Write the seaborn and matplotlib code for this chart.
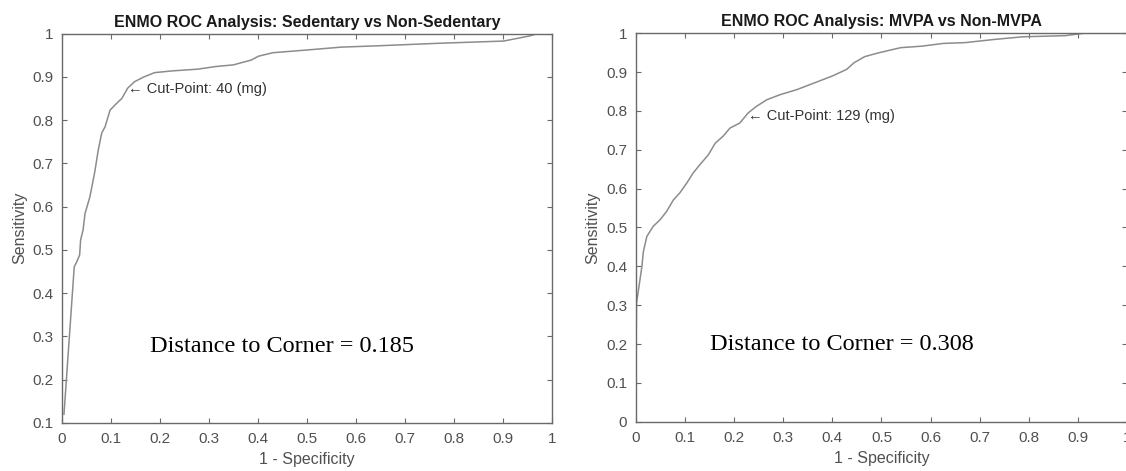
import matplotlib
matplotlib.use("Agg")
import matplotlib.pyplot as plt
import seaborn as sns
import pandas as pd

# ---- data ----
sed_fpr = [0.004, 0.025, 0.030, 0.036, 0.038, 0.043, 0.047, 0.057, 0.067, 0.074,
           0.081, 0.088, 0.098, 0.108, 0.118, 0.122, 0.134, 0.148, 0.167, 0.189,
           0.225, 0.277, 0.313, 0.350, 0.386, 0.401, 0.430, 0.496, 0.570, 0.643,
           0.771, 0.901, 0.955, 0.969, 1.0]
sed_tpr = [0.119, 0.461, 0.472, 0.488, 0.523, 0.546, 0.584, 0.623, 0.681, 0.731,
           0.770, 0.785, 0.823, 0.835, 0.846, 0.850, 0.874, 0.889, 0.900, 0.910,
           0.914, 0.918, 0.924, 0.928, 0.939, 0.948, 0.956, 0.962, 0.969, 0.972,
           0.978, 0.983, 0.995, 1.0, 1.0]

mvpa_fpr = [0.0, 0.0, 0.002, 0.009, 0.013, 0.016, 0.023, 0.036, 0.050, 0.063, 0.077,
            0.090, 0.104, 0.117, 0.131, 0.148, 0.162, 0.178, 0.192, 0.212, 0.229,
            0.246, 0.267, 0.294, 0.328, 0.363, 0.400, 0.429, 0.444, 0.466, 0.495,
            0.539, 0.583, 0.626, 0.670, 0.728, 0.787, 0.874, 0.911, 1.0]
mvpa_tpr = [0.0, 0.043, 0.305, 0.365, 0.400, 0.438, 0.477, 0.503, 0.520, 0.541, 0.571,
            0.589, 0.614, 0.640, 0.662, 0.687, 0.717, 0.735, 0.756, 0.769, 0.795,
            0.812, 0.829, 0.842, 0.855, 0.872, 0.890, 0.907, 0.924, 0.940, 0.950,
            0.963, 0.967, 0.974, 0.976, 0.984, 0.991, 0.994, 1.0, 1.0]

titles = ["ENMO ROC Analysis: Sedentary vs Non-Sedentary",
          "ENMO ROC Analysis: MVPA vs Non-MVPA"]
cut_labels = ["\u2190 Cut-Point: 40 (mg)", "\u2190 Cut-Point: 129 (mg)"]
cut_pos = [(0.134, 0.872), (0.229, 0.788)]
dist_labels = ["Distance to Corner = 0.185", "Distance to Corner = 0.308"]
dist_pos = [(0.18, 0.2775), (0.151, 0.20)]
x_ticks = [0, 0.1, 0.2, 0.3, 0.4, 0.5, 0.6, 0.7, 0.8, 0.9, 1]
y_ticks_sed = [0.1, 0.2, 0.3, 0.4, 0.5, 0.6, 0.7, 0.8, 0.9, 1]
y_ticks_mvpa = [0, 0.1, 0.2, 0.3, 0.4, 0.5, 0.6, 0.7, 0.8, 0.9, 1]
ylims = [(0.1, 1.0), (0.0, 1.0)]

sns.set_theme(style="white")
plt.rcParams['font.family'] = ['Liberation Sans', 'DejaVu Sans']

fig = plt.figure(figsize=(11.26, 4.71), dpi=100)
axes = [fig.add_axes([0.05506, 0.1025, 0.4352, 0.8259]),
        fig.add_axes([0.5644, 0.1047, 0.4369, 0.8246])]

spine_c = "#6a6a6a"
tick_c = "#505050"
line_c = "#8c8c8c"

def fmt(v):
    return "%g" % v

data = [(sed_fpr, sed_tpr, y_ticks_sed), (mvpa_fpr, mvpa_tpr, y_ticks_mvpa)]
for i, ax in enumerate(axes):
    fpr, tpr, yt = data[i]
    df = pd.DataFrame({"fpr": fpr, "tpr": tpr})
    sns.lineplot(data=df, x="fpr", y="tpr", ax=ax, sort=False, estimator=None,
                 color=line_c, linewidth=1.1)
    ax.set_xlim(0, 1)
    ax.set_ylim(*ylims[i])
    ax.set_xticks(x_ticks)
    ax.set_xticklabels([fmt(v) for v in x_ticks])
    ax.set_yticks(yt)
    ax.set_yticklabels([fmt(v) for v in yt])
    for sp in ax.spines.values():
        sp.set_visible(True)
        sp.set_color(spine_c)
        sp.set_linewidth(1.0)
    ax.tick_params(direction="in", length=3.5, width=0.8, color=spine_c,
                   top=True, right=True, bottom=True, left=True,
                   labelsize=11, labelcolor=tick_c)
    ax.tick_params(axis="x", pad=7)
    ax.tick_params(axis="y", pad=6)
    ax.set_xlabel("1 - Specificity", fontsize=11.5, color=tick_c, labelpad=4)
    ax.set_ylabel("Sensitivity", fontsize=11.5, color=tick_c, labelpad=4)
    ax.set_title(titles[i], fontsize=11.5, fontweight="bold", color="#1a1a1a", pad=5)
    ax.text(cut_pos[i][0], cut_pos[i][1], cut_labels[i], fontsize=10.5,
            color="#333333", ha="left", va="center",
            family=['Liberation Sans', 'DejaVu Sans'])
    ax.text(dist_pos[i][0], dist_pos[i][1], dist_labels[i], fontsize=17.5,
            color="black", ha="left", va="center", family=['Liberation Serif'])
    ax.grid(False)

fig.savefig("out.png", dpi=100, facecolor="white")
